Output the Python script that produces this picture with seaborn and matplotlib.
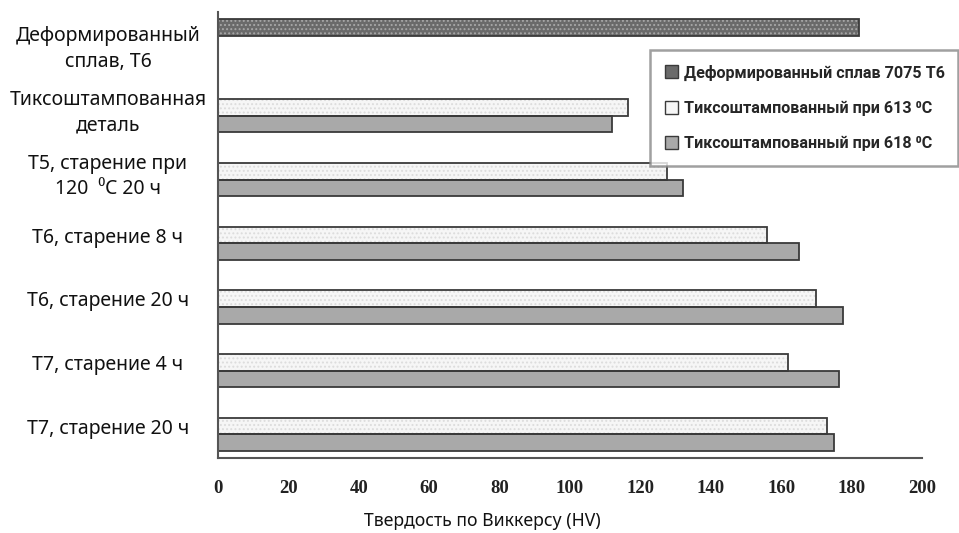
import matplotlib
matplotlib.use("Agg")
import matplotlib.pyplot as plt
import seaborn as sns
import pandas as pd
from matplotlib.patches import Patch, Rectangle

categories = [
    "Деформированный\nсплав, Т6",
    "Тиксоштампованная\nдеталь",
    "Т5, старение при\n120  ⁰C 20 ч",
    "Т6, старение 8 ч",
    "Т6, старение 20 ч",
    "Т7, старение 4 ч",
    "Т7, старение 20 ч",
]
series = [
    "Деформированный сплав 7075 Т6",
    "Тиксоштампованный при 613 ⁰C",
    "Тиксоштампованный при 618 ⁰C",
]
deformed = [182, None, None, None, None, None, None]
thixo613 = [None, 116.5, 127.5, 156, 170, 162, 173]
thixo618 = [None, 112, 132, 165, 177.5, 176.5, 175]
x_ticks = [0, 20, 40, 60, 80, 100, 120, 140, 160, 180, 200]
x_label = "Твердость по Виккерсу (HV)"

colors = ["#6a6a6a", "#f6f6f6", "#a9a9a9"]
hatch_colors = ["#a8a8a8", "#dcdcdc", None]
edge_dark = "#3a3a3a"

rows = []
for s, vals in zip(series, [deformed, thixo613, thixo618]):
    for c, v in zip(categories, vals):
        if v is not None:
            rows.append({"cat": c, "hv": v, "series": s})
df = pd.DataFrame(rows)

sns.set_style("white")
plt.rcParams["font.family"] = ["Noto Sans", "DejaVu Sans"]
plt.rcParams["hatch.linewidth"] = 0.9

fig = plt.figure(figsize=(9.59, 5.33), dpi=100)
ax = fig.add_axes([218 / 959, 1 - 458 / 533, (922 - 218) / 959, (458 - 12) / 533])

sns.barplot(data=df, y="cat", x="hv", hue="series", order=categories,
            hue_order=series, palette=colors, width=0.78, orient="h",
            edgecolor=edge_dark, linewidth=1.3, ax=ax, legend=False,
            errorbar=None)

for i, cont in enumerate(ax.containers):
    if hatch_colors[i] is None:
        continue
    for p in cont:
        p.set_hatch("....")
        p.set_edgecolor(hatch_colors[i])
        p.set_linewidth(0)
        ax.add_patch(Rectangle(p.get_xy(), p.get_width(), p.get_height(),
                               fill=False, edgecolor=edge_dark, linewidth=1.3,
                               zorder=p.get_zorder() + 0.1))

ax.set_xlim(0, 200)
ax.set_ylim(6.5, -0.5)
ax.set_xticks(x_ticks)
ax.set_xticklabels([str(t) for t in x_ticks], family=["Liberation Serif"],
                   fontweight="bold", fontsize=13.5, color="#222222")
ax.set_xlabel(x_label, fontsize=12.7, color="#111111")
ax.xaxis.set_label_coords((482 - 218) / 704, -0.12)
ax.set_ylabel("")

ax.set_yticks(range(len(categories)))
ax.set_yticklabels(categories, fontsize=14, color="#111111", linespacing=1.35)
for lab in ax.get_yticklabels():
    lab.set_horizontalalignment("center")
    lab.set_multialignment("center")
ax.tick_params(axis="y", which="major", length=0, pad=110 * 0.72)
ax.set_yticks([i - 0.5 for i in range(len(categories) + 1)], minor=True)
ax.tick_params(axis="y", which="minor", length=6, width=1.2, color="#444444", direction="out")
ax.tick_params(axis="x", which="major", length=7, width=1.2, color="#444444",
               direction="inout", pad=12)

for sp in ["top", "right"]:
    ax.spines[sp].set_visible(False)
for sp in ["left", "bottom"]:
    ax.spines[sp].set_color("#555555")
    ax.spines[sp].set_linewidth(1.5)

handles = [Patch(facecolor=colors[i], edgecolor=edge_dark, linewidth=1.0)
           for i in range(3)]
leg = fig.legend(handles, series, loc="upper left",
                 bbox_to_anchor=(650 / 959, 1 - 164 / 533, 308 / 959, 114 / 533),
                 mode="expand",
                 borderaxespad=0, frameon=True, fancybox=False,
                 handlelength=0.85, handleheight=0.85, handletextpad=0.35,
                 labelspacing=1.25, borderpad=0.9,
                 prop={"family": ["Roboto", "DejaVu Sans"],
                       "weight": "bold", "size": 11.6})
leg.get_frame().set_edgecolor("#888888")
leg.get_frame().set_linewidth(1.8)

fig.savefig("out.png", dpi=100, facecolor="white")
